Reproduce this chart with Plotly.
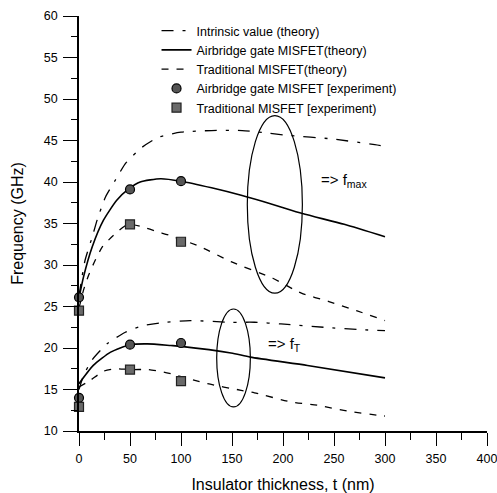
import plotly.graph_objects as go

# ---- data ----
t_fmax_intr = [0, 3, 6, 13, 18, 26, 36, 46, 62, 78, 100, 130, 160, 185, 206, 247, 290, 300]
fmax_intr = [26.3, 28.6, 30.6, 33.4, 35.5, 38.2, 40.3, 42.3, 44.2, 45.4, 46.0, 46.2, 46.2, 45.9, 45.6, 45.2, 44.5, 44.3]

t_fmax_air = [0, 4.5, 13, 24, 37, 49, 60, 80, 100, 130, 159, 190, 219, 260, 300]
fmax_air = [26.0, 28.6, 32.2, 35.4, 37.8, 39.2, 40.0, 40.4, 40.1, 39.3, 38.4, 37.3, 36.2, 34.9, 33.4]

t_fmax_trad = [0, 4.5, 9.5, 16, 23, 34, 48, 62, 77, 88, 119, 149, 190, 218, 245, 272, 300]
fmax_trad = [24.8, 27.0, 28.8, 30.6, 32.2, 33.6, 34.9, 34.6, 34.0, 33.6, 32.2, 30.4, 28.4, 26.6, 25.6, 24.5, 23.3]

t_ft_intr = [0, 4.5, 13, 27.5, 45.5, 63, 86, 109, 149, 172, 198, 240, 277, 300]
ft_intr = [15.0, 16.7, 18.6, 20.5, 21.9, 22.7, 23.1, 23.3, 23.1, 23.1, 22.9, 22.5, 22.2, 22.1]

t_ft_air = [0, 14, 31, 50, 67, 90, 100, 149, 168, 224, 300]
ft_air = [15.7, 17.9, 19.5, 20.4, 20.5, 20.3, 20.2, 19.4, 18.9, 17.9, 16.4]

t_ft_trad = [0, 11, 24, 36, 50, 68, 83, 90, 126, 159, 172, 208, 234, 263, 293, 300]
ft_trad = [15.3, 16.1, 17.2, 17.5, 17.4, 17.4, 17.1, 16.9, 15.7, 14.9, 14.6, 13.5, 13.1, 12.4, 11.9, 11.8]

t_exp = [0, 50, 100]
fmax_air_exp = [26.1, 39.1, 40.1]
ft_air_exp = [14.0, 20.4, 20.6]
fmax_trad_exp = [24.5, 34.9, 32.8]
ft_trad_exp = [12.9, 17.4, 16.0]

# highlight ellipses: [t0, t1, f0, f1]
ellipse_fmax = [165, 219, 26.6, 48.0]
ellipse_ft = [135, 168, 12.9, 24.7]

x_ticks = [0, 50, 100, 150, 200, 250, 300, 350, 400]
y_ticks = [10, 15, 20, 25, 30, 35, 40, 45, 50, 55, 60]

FONT = "Liberation Sans, Arial, sans-serif"
DASHDOT = "12px,9px,3px,9px"
DASH = "7px,8px"

fig = go.Figure()

def line(t, v, dash, name, show, group, width):
    fig.add_trace(go.Scatter(
        x=t, y=v, mode="lines", name=name, legendgroup=group, showlegend=show,
        line=dict(color="black", width=width, dash=dash, shape="spline", smoothing=0.6),
        cliponaxis=False))

line(t_fmax_intr, fmax_intr, DASHDOT, "Intrinsic value (theory)", True, "intr", 1.3)
line(t_fmax_air, fmax_air, "solid", "Airbridge gate MISFET(theory)", True, "air", 1.6)
line(t_fmax_trad, fmax_trad, DASH, "Traditional MISFET(theory)", True, "trad", 1.3)
line(t_ft_intr, ft_intr, DASHDOT, "Intrinsic value (theory)", False, "intr", 1.3)
line(t_ft_air, ft_air, "solid", "Airbridge gate MISFET(theory)", False, "air", 1.6)
line(t_ft_trad, ft_trad, DASH, "Traditional MISFET(theory)", False, "trad", 1.3)

fig.add_trace(go.Scatter(
    x=t_exp + t_exp, y=fmax_air_exp + ft_air_exp, mode="markers",
    name="Airbridge gate MISFET [experiment)",
    marker=dict(symbol="circle", size=9, color="#555555", line=dict(color="black", width=1.2)),
    cliponaxis=False))
fig.add_trace(go.Scatter(
    x=t_exp + t_exp, y=fmax_trad_exp + ft_trad_exp, mode="markers",
    name="Traditional MISFET [experiment)",
    marker=dict(symbol="square", size=9, color="#6a6a6a", line=dict(color="#222222", width=1.2)),
    cliponaxis=False))

for e in (ellipse_fmax, ellipse_ft):
    fig.add_shape(type="circle", xref="x", yref="y", x0=e[0], x1=e[1], y0=e[2], y1=e[3],
                  line=dict(color="black", width=1.2))

fig.add_annotation(x=235, y=40.2, xref="x", yref="y", text="=> f<sub>max</sub>",
                   showarrow=False, xanchor="left", yanchor="middle",
                   font=dict(family=FONT, size=15, color="black"))
fig.add_annotation(x=183, y=20.4, xref="x", yref="y", text="=> f<sub>T</sub>",
                   showarrow=False, xanchor="left", yanchor="middle",
                   font=dict(family=FONT, size=15, color="black"))

fig.update_layout(
    width=497, height=493,
    margin=dict(l=79, r=10, t=16, b=62, autoexpand=False),
    paper_bgcolor="white", plot_bgcolor="white",
    font=dict(family=FONT, size=12, color="black"),
    legend=dict(x=0.19, y=1.0, xanchor="left", yanchor="top",
                bgcolor="rgba(0,0,0,0)", font=dict(family=FONT, size=12.5, color="black"),
                tracegroupgap=0),
    showlegend=True,
)
fig.update_xaxes(
    range=[0, 400], tickvals=x_ticks, showgrid=False, zeroline=False, automargin=False,
    showline=True, linecolor="black", linewidth=1.5,
    ticks="outside", ticklen=13, tickwidth=1.3, tickcolor="black",
    minor=dict(dtick=25, ticks="outside", ticklen=7, tickwidth=1.2, tickcolor="black", showgrid=False),
    tickfont=dict(family=FONT, size=12.5), ticklabelstandoff=2, ticklabeloverflow="allow",
    title=dict(text="Insulator thickness, t (nm)", font=dict(family=FONT, size=16), standoff=21),
)
fig.update_yaxes(
    range=[10, 60], tickvals=y_ticks, showgrid=False, zeroline=False, automargin=False,
    showline=True, linecolor="black", linewidth=1.5,
    ticks="outside", ticklen=14, tickwidth=1.3, tickcolor="black",
    minor=dict(dtick=2.5, ticks="outside", ticklen=6, tickwidth=1.2, tickcolor="black", showgrid=False),
    tickfont=dict(family=FONT, size=12.5), ticklabelstandoff=3,
    title=dict(text="Frequency (GHz)", font=dict(family=FONT, size=16), standoff=16),
)

fig.write_html("out.html")
